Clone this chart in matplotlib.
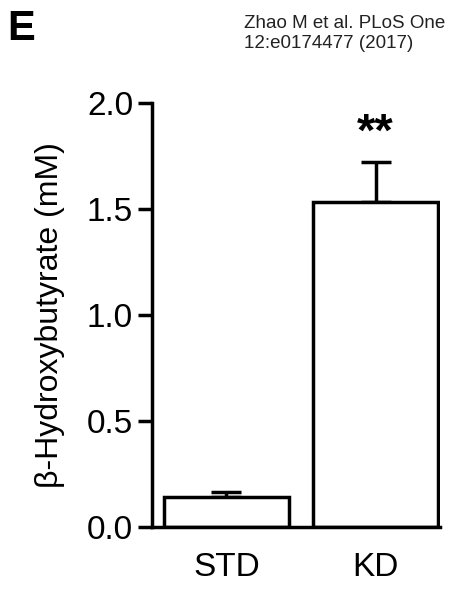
import matplotlib
matplotlib.use("Agg")
import matplotlib.pyplot as plt

categories = ["STD", "KD"]
values = [0.14, 1.53]
errors = [0.025, 0.19]
yticks = [0.0, 0.5, 1.0, 1.5, 2.0]

plt.rcParams['font.family'] = ['Liberation Sans', 'DejaVu Sans']
fig = plt.figure(figsize=(4.7, 6.0), dpi=100)
ax = fig.add_axes([0.323, 0.1217, 0.613, 0.707])
x = list(range(len(categories)))
ax.bar(x, values, width=0.84, color="white", edgecolor="black", linewidth=2.5, zorder=2)
ax.errorbar(x, values, yerr=[[0]*len(errors), errors], fmt="none", ecolor="black",
            elinewidth=2.5, capsize=11, capthick=2.5, zorder=1)
ax.text(1, values[1] + errors[1] + 0.03, "**", ha="center", va="bottom", fontsize=34, fontweight="bold")
ax.set_xlim(-0.5, 1.43)
ax.set_ylim(0, 2.0)
ax.set_yticks(yticks)
ax.set_yticklabels([f"{t:.1f}" for t in yticks])
ax.set_xticks(x)
ax.set_xticklabels(categories)
for s in ["top", "right"]:
    ax.spines[s].set_visible(False)
for s in ["left", "bottom"]:
    ax.spines[s].set_linewidth(2.5)
ax.tick_params(axis="y", labelsize=24, width=2.5, length=10)
ax.tick_params(axis="x", labelsize=24, length=0, pad=18)
ax.set_ylabel("β-Hydroxybutyrate (mM)", fontsize=23, labelpad=16)
fig.text(0.015, 0.985, "E", fontsize=30, fontweight="bold", va="top", ha="left")
fig.text(0.52, 0.975, "Zhao M et al. PLoS One\n12:e0174477 (2017)", fontsize=13.5, va="top", ha="left", color="#222222")
fig.savefig("out.png", dpi=100)
